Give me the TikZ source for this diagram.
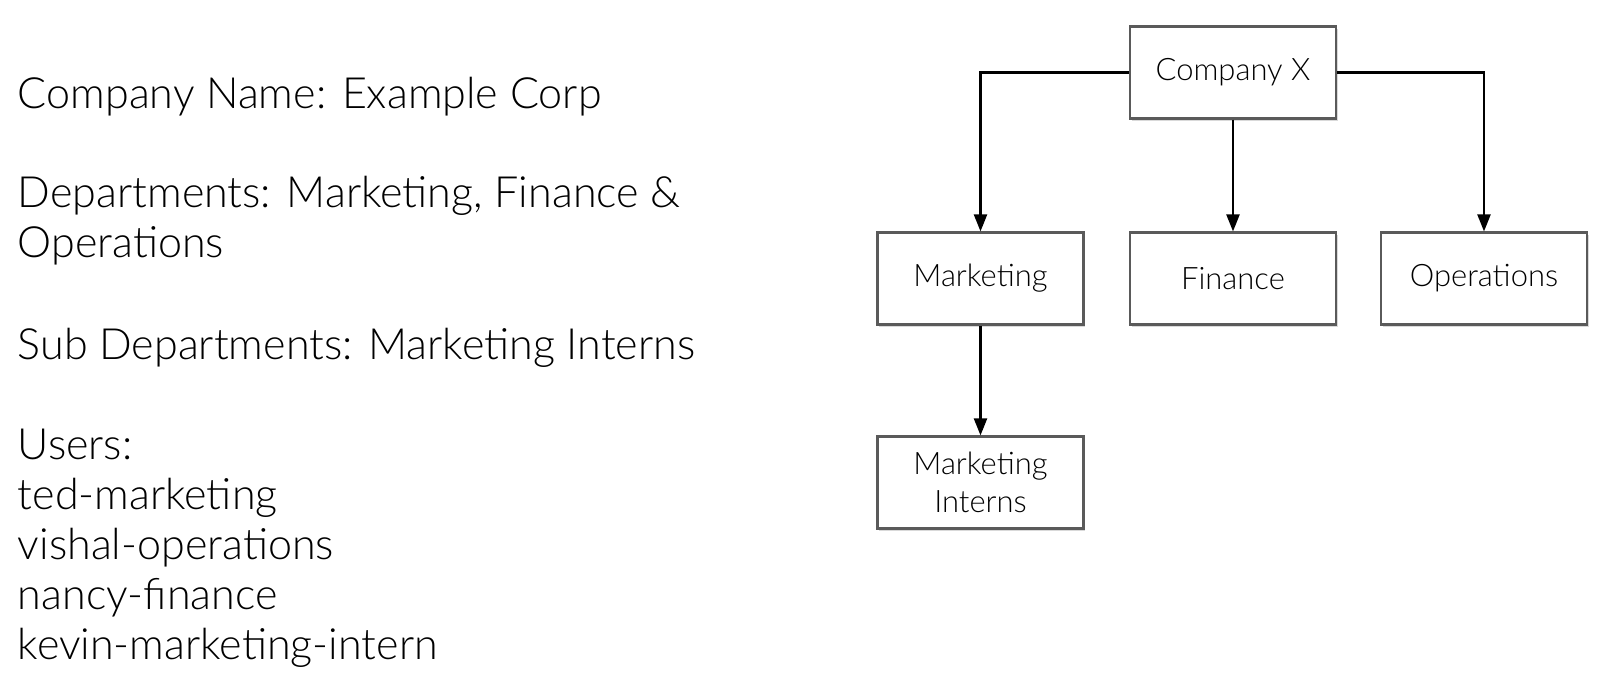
\documentclass[tikz,border=0pt]{standalone}
\usepackage{fontspec}
\setmainfont{Lato}[UprightFont={* Light}]
\usepackage{tikz}
\usetikzlibrary{arrows.meta,positioning,shadows}
\definecolor{boxline}{HTML}{5A5A5A}

\begin{document}
\begin{tikzpicture}[
    unit/.style={rectangle, draw=boxline, line width=1.2pt, fill=white,
                 minimum width=4.12cm, minimum height=1.84cm, align=center,
                 font=\fontsize{17.6}{21.5}\selectfont,
                 drop shadow={opacity=0.3, shadow xshift=0.03cm, shadow yshift=-0.05cm}},
    arr/.style={-{Triangle[length=0.34cm, width=0.26cm]}, line width=1.2pt},
    info/.style={anchor=west, align=left, inner sep=0pt,
                 font=\fontsize{24.5}{28.5}\selectfont},
  ]
  \useasboundingbox (0,0) rectangle (32,-13.6);

  % Description on the left
  \node[info] (cname) at (0.35,-1.93) {Company Name: Example Corp};
  \node[info] (depts) at (0.35,-4.41) {Departments: Marketing, Finance \&\\Operations};
  \node[info] (subs)  at (0.35,-6.95) {Sub Departments: Marketing Interns};
  \node[info] (users) at (0.35,-10.97) {Users:\\ted-marketing\\vishal-operations\\nancy-finance\\kevin-marketing-intern};

  % Chart on the right
  \node[unit] (cx)  at (24.66,-1.45) {Company X};
  \node[unit] (mkt) at (19.61,-5.57) {Marketing};
  \node[unit] (fin) at (24.66,-5.57) {Finance};
  \node[unit] (ops) at (29.68,-5.57) {Operations};
  \node[unit] (int) at (19.61,-9.65) {Marketing\\Interns};

  \draw[arr] (cx.west) -| (mkt.north);
  \draw[arr] (cx.south) -- (fin.north);
  \draw[arr] (cx.east) -| (ops.north);
  \draw[arr] (mkt.south) -- (int.north);
\end{tikzpicture}
\end{document}
